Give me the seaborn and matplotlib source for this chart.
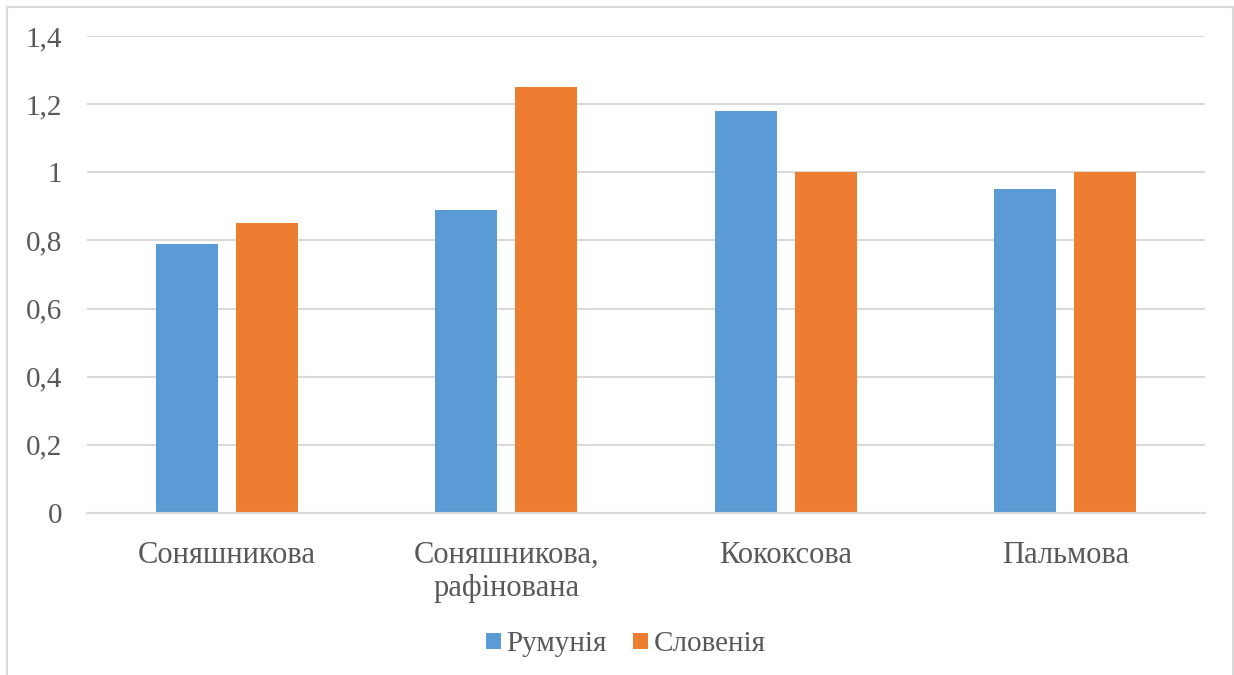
import matplotlib
matplotlib.use("Agg")
import matplotlib.pyplot as plt
from matplotlib.patches import Rectangle
import seaborn as sns
import pandas as pd

categories = ["Соняшникова", "Соняшникова,\nрафінована", "Кококсова", "Пальмова"]
series_names = ["Румунія", "Словенія"]
romania = [0.79, 0.89, 1.18, 0.95]
slovenia = [0.85, 1.25, 1.0, 1.0]
y_ticks = [0, 0.2, 0.4, 0.6, 0.8, 1.0, 1.2, 1.4]
y_tick_labels = ["0", "0,2", "0,4", "0,6", "0,8", "1", "1,2", "1,4"]

df = pd.DataFrame({
    "category": categories * 2,
    "country": [series_names[0]] * 4 + [series_names[1]] * 4,
    "value": romania + slovenia,
})

sns.set_style("white")
plt.rcParams["font.family"] = ["Liberation Serif", "DejaVu Serif"]

TEXT = "#595959"
GRID = "#d9d9d9"

fig = plt.figure(figsize=(12.34, 6.75), dpi=100)
ax = fig.add_axes([87 / 1234, 1 - 513 / 675, (1205 - 87) / 1234, (513 - 36) / 675])

sns.barplot(
    data=df, x="category", y="value", hue="country",
    palette=["#5B9BD5", "#ED7D31"], width=0.572, gap=0.224,
    ax=ax, legend=True, saturation=1, edgecolor="none",
)

ax.set_ylim(0, 1.4)
ax.set_xlim(-0.5, 3.5)
ax.set_yticks(y_ticks)
ax.set_yticklabels(y_tick_labels)
ax.set_xlabel("")
ax.set_ylabel("")
ax.yaxis.grid(True, color=GRID, linewidth=1.5)
ax.set_axisbelow(True)
for s in ["top", "right", "left"]:
    ax.spines[s].set_visible(False)
ax.spines["bottom"].set_color(GRID)
ax.spines["bottom"].set_linewidth(1.5)
ax.tick_params(axis="y", length=0, labelsize=21, labelcolor=TEXT, pad=18)
ax.tick_params(axis="x", length=0, labelsize=22, labelcolor=TEXT, pad=20)

ax.legend(
    loc="center", bbox_to_anchor=(0.482, -0.275), ncol=2, frameon=False,
    fontsize=21, labelcolor=TEXT, handlelength=0.5, handleheight=0.5,
    handletextpad=0.2, columnspacing=0.9,
)

fig.patches.append(Rectangle(
    (7 / 1234, -0.1), (1233 - 7) / 1234, 1.1 - 7 / 675,
    transform=fig.transFigure, fill=False, edgecolor=GRID, linewidth=1.5,
))

fig.savefig("out.png", dpi=100)
